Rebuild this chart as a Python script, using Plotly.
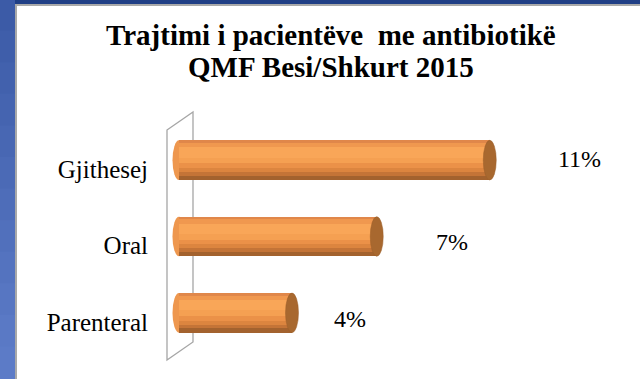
import plotly.graph_objects as go

# ---- data -------------------------------------------------------------
categories = ["Gjithesej", "Oral", "Parenteral"]
values = [11, 7, 4]                      # percent of patients
value_labels = ["11%", "7%", "4%"]
title_lines = ["Trajtimi i pacientëve\u00a0 me antibiotikë", "QMF Besi/Shkurt 2015"]

# ---- layout geometry (pixels) ----------------------------------------
W, H = 640, 379
M_L, M_R, M_T, M_B = 160, 0, 122, 28
PW, PH = W - M_L - M_R, H - M_T - M_B
K = 28.25                                 # pixels per percentage point
X_ZERO = 179                              # pixel column of the value 0
X_MIN = -(X_ZERO - M_L) / K
X_MAX = X_MIN + PW / K
BAR_W = 0.52                              # bar thickness in category units
CAP = 6.5 / K                             # half-width of cylinder end caps, data units
LABEL_XSHIFT = [66, 57, 40]               # pixel nudges for value labels
LABEL_YSHIFT = [1, -5, -6]
TITLE_CENTRES = [35, 67]                  # pixel rows of the two title lines

SERIF = "Times New Roman, serif"

def px(x):
    return (x - M_L) / PW

def py(y):
    return (H - M_B - y) / PH

# horizontal colour bands, top to bottom, that give the cylinder its shading
bands = [
    (0.00, 0.07, "#e0874a"),
    (0.07, 0.18, "#f0984f"),
    (0.18, 0.44, "#f9a658"),
    (0.44, 0.58, "#f5a052"),
    (0.58, 0.70, "#eb9148"),
    (0.70, 0.80, "#dc853f"),
    (0.80, 0.89, "#c47437"),
    (0.89, 1.00, "#a3622e"),
]

fig = go.Figure()
ypos = list(range(len(categories)))
for f0, f1, col in bands:
    fig.add_trace(go.Bar(
        y=ypos, x=values, orientation="h",
        width=(f1 - f0) * BAR_W,
        offset=-BAR_W / 2 + f0 * BAR_W,
        marker=dict(color=col, line=dict(width=0)),
        hoverinfo="skip", showlegend=False,
    ))

shapes = []
# slide background strips
shapes.append(dict(type="rect", xref="paper", yref="paper",
                   x0=px(0), x1=px(W), y0=py(-1), y1=py(4),
                   fillcolor="#203f85", line_width=0, layer="below"))
left_cols = ["#3c5ba7", "#3f5eaa", "#4261ad", "#4564b0", "#4867b3", "#4b6ab6",
             "#4e6db9", "#5170bc", "#5473bf", "#5776c2", "#5a79c5", "#5c7bc7"]
n = len(left_cols)
for i, c in enumerate(left_cols):
    shapes.append(dict(type="rect", xref="paper", yref="paper",
                       x0=px(-1), x1=px(15), y0=py(H * i / n - 1), y1=py(H * (i + 1) / n + 1),
                       fillcolor=c, line_width=0, layer="below"))
shapes.append(dict(type="rect", xref="paper", yref="paper",
                   x0=px(15), x1=px(W + 1), y0=py(4), y1=py(6),
                   fillcolor="#a9a9a9", line_width=0, layer="below"))
shapes.append(dict(type="rect", xref="paper", yref="paper",
                   x0=px(15), x1=px(17), y0=py(4), y1=py(H + 1),
                   fillcolor="#a9a9a9", line_width=0, layer="below"))

# back wall of the 3-D plot area
wall = "M {} {} L {} {} L {} {} L {} {} Z".format(
    px(167), py(130), px(193), py(112), px(193), py(342), px(167), py(360))
shapes.append(dict(type="path", xref="paper", yref="paper", path=wall,
                   line=dict(color="#a6a6a6", width=1.3), layer="below"))

# cylinder end caps
for i, v in enumerate(values):
    shapes.append(dict(type="circle", xref="x", yref="y",
                       x0=-CAP, x1=CAP, y0=i - BAR_W / 2, y1=i + BAR_W / 2,
                       fillcolor="#ee974e", line_width=0, layer="below"))
    shapes.append(dict(type="circle", xref="x", yref="y",
                       x0=v - CAP, x1=v + CAP, y0=i - BAR_W / 2, y1=i + BAR_W / 2,
                       fillcolor="#a8682f", line=dict(color="#9a5e2a", width=0.5),
                       layer="above"))

annotations = []
for i, (v, t) in enumerate(zip(values, value_labels)):
    annotations.append(dict(x=v, y=i, xref="x", yref="y", text=t,
                            showarrow=False, xanchor="left", yanchor="middle",
                            xshift=LABEL_XSHIFT[i], yshift=LABEL_YSHIFT[i],
                            font=dict(family=SERIF, size=24, color="#000000")))
for line, yc in zip(title_lines, TITLE_CENTRES):
    annotations.append(dict(x=px(331), y=py(yc), xref="paper", yref="paper",
                            text="<b>" + line + "</b>",
                            showarrow=False, xanchor="center", yanchor="middle",
                            font=dict(family=SERIF, size=29, color="#000000")))

fig.update_layout(
    width=W, height=H,
    margin=dict(l=M_L, r=M_R, t=M_T, b=M_B, pad=0),
    paper_bgcolor="#ffffff", plot_bgcolor="rgba(0,0,0,0)",
    barmode="overlay", bargap=0,
    shapes=shapes, annotations=annotations,
    showlegend=False,
    font=dict(family=SERIF),
    xaxis=dict(range=[X_MIN, X_MAX], visible=False, fixedrange=True),
    yaxis=dict(
        tickmode="array", tickvals=ypos, ticktext=categories,
        range=[len(categories) - 0.5, -0.5],
        showgrid=False, zeroline=False, showline=False, ticks="",
        ticklabelstandoff=11, ticklabelshift=-9,
        tickfont=dict(family=SERIF, size=25, color="#000000"),
    ),
)

fig.write_html("out.html")
